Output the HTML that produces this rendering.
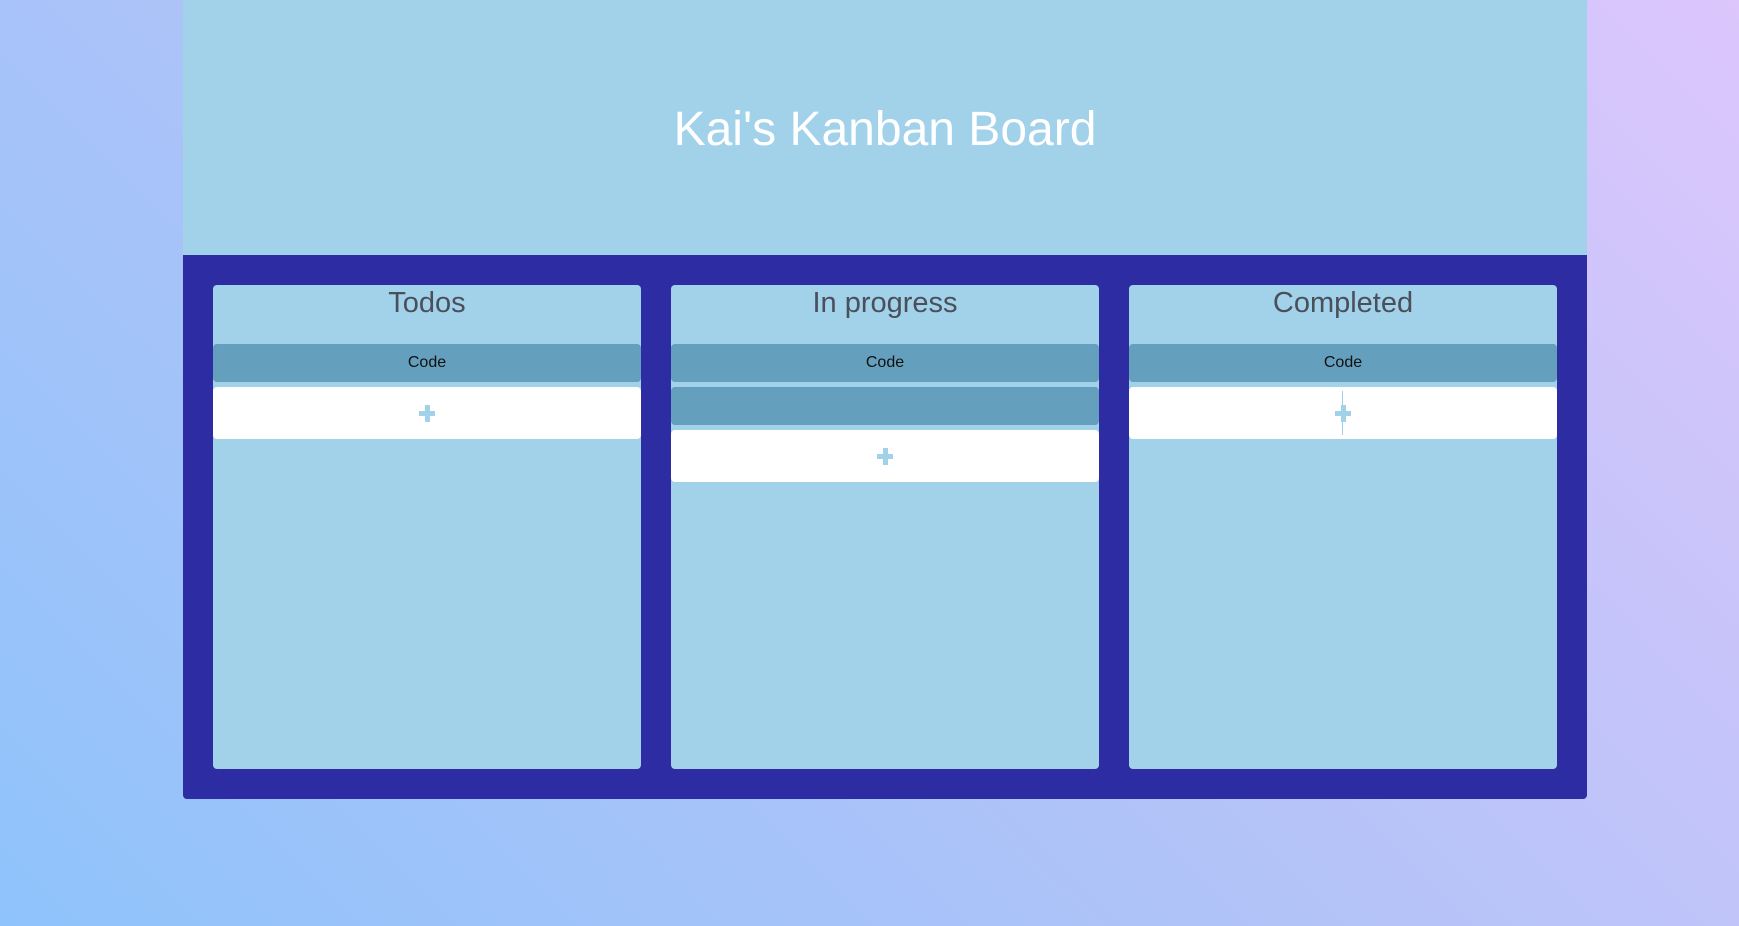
<!DOCTYPE html>
<html><head><style>
html,body{margin:0;padding:0;}
body{width:1739px;height:926px;position:relative;overflow:hidden;font-family:"Liberation Sans",Arial,sans-serif;
background:linear-gradient(45deg,#8fc3fb 0%,#b3c3f8 50%,#dcc6fc 100%);}
.hdr{position:absolute;left:183px;top:0;width:1404px;height:255px;background:#a1d2ea;}
.hdr h1{margin:0;position:absolute;left:0;right:0;top:102px;text-align:center;color:#fff;font-weight:normal;font-size:48px;}
.board{position:absolute;left:183px;top:255px;width:1404px;height:544px;background:#2e2ca3;border-radius:0 0 4px 4px;}
.col{position:absolute;top:30px;width:428px;height:484px;background:#a1d2ea;border-radius:4px;}
.col h2{margin:0;position:absolute;left:0;right:0;top:2px;text-align:center;font-weight:normal;font-size:29px;color:#4a4f5a;}
.card{position:absolute;left:0;width:428px;height:38px;background:#649fbd;border-radius:4px;text-align:center;line-height:38px;font-size:16px;color:#111;}
.add{position:absolute;left:0;width:428px;height:52px;background:#fff;border-radius:4px;}
.add:before{content:"";position:absolute;left:206px;top:24px;width:16px;height:5px;background:#a1d2ea;}
.add:after{content:"";position:absolute;left:212px;top:18px;width:5px;height:17px;background:#a1d2ea;}
</style></head><body>
<div class="hdr"><h1>Kai's Kanban Board</h1></div>
<div class="board">
 <div class="col" style="left:30px"><h2>Todos</h2>
  <div class="card" style="top:59px">Code</div>
  <div class="add" style="top:102px"></div></div>
 <div class="col" style="left:488px"><h2>In progress</h2>
  <div class="card" style="top:59px">Code</div>
  <div class="card" style="top:102px"></div>
  <div class="add" style="top:145px"></div></div>
 <div class="col" style="left:946px"><h2>Completed</h2>
  <div class="card" style="top:59px">Code</div>
  <div class="add" style="top:102px"><div style="position:absolute;left:213px;top:4px;width:1px;height:44px;background:#a1d2ea"></div></div></div>
</div>
</body></html>
